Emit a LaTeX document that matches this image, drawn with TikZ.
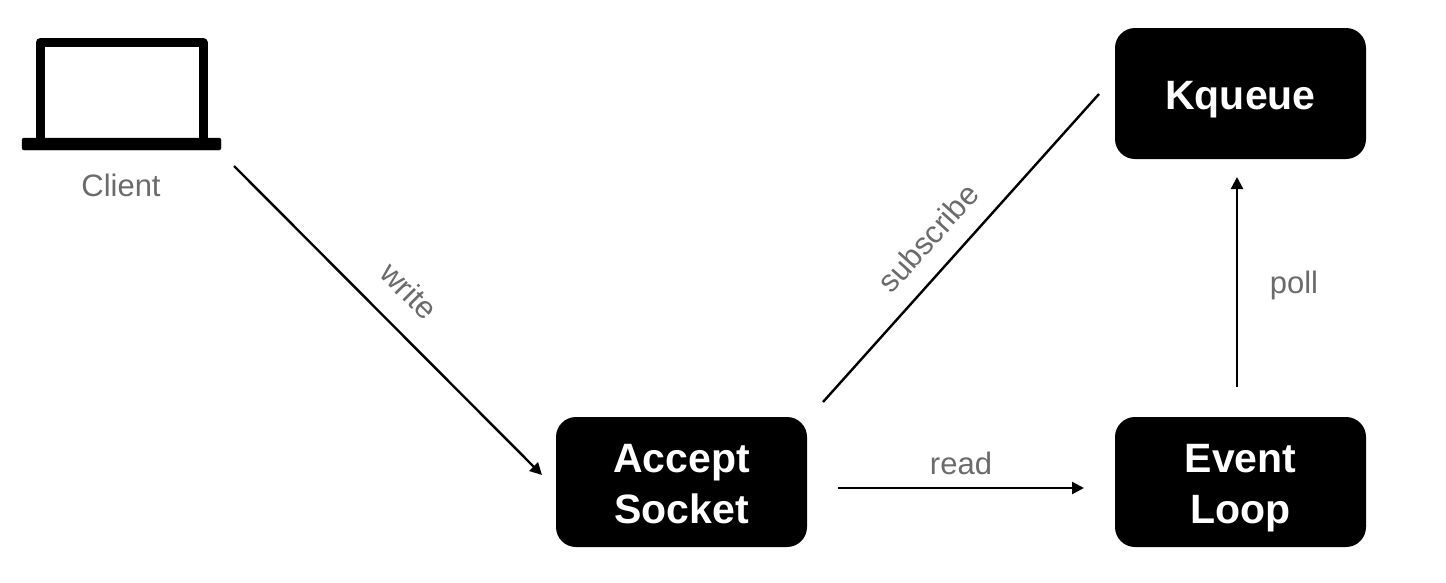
\documentclass[tikz,border=0pt]{standalone}
\usepackage{fontspec}
\setmainfont{Liberation Sans}
\usetikzlibrary{arrows.meta}
\newcommand{\boxtop}{\rule{0pt}{47.7pt}}
\tikzset{
  blackbox/.style={draw=none,fill=black,rounded corners=20pt,minimum width=251pt,minimum height=130pt,inner sep=0pt,align=center,text=white,font=\fontsize{41}{51}\selectfont\bfseries},
  lbl/.style={text=black!58,font=\fontsize{31}{36}\selectfont,inner sep=0pt},
  conn/.style={line width=2.4pt,draw=black},
  arrowconn/.style={conn,-{Triangle[length=12pt,width=12pt]}},
  laptopline/.style={draw=black,line width=9pt,line join=round}
}
\begin{document}
\begin{tikzpicture}[x=1pt,y=-1pt]
\useasboundingbox (0,0) rectangle (1446,582);
\node[blackbox] (accept) at (681.5,482) {\boxtop\strut Accept\\\strut Socket};
\node[blackbox] (event) at (1240.5,482) {\boxtop\strut Event\\\strut Loop};
\node[blackbox,minimum height=131pt] (kqueue) at (1240.5,93.5) {\boxtop\strut Kqueue};
% laptop
\draw[laptopline] (40,140) -- (40,42.5) -- (203,42.5) -- (203,140);
\draw[black,fill=black,rounded corners=2pt] (22,138) rectangle (221,150);
\node[lbl] (client) at (121,185) {Client};
% free ends
\coordinate (w1) at (234,166);
\coordinate (w2) at (542,475);
\coordinate (s1) at (823,402);
\coordinate (s2) at (1099,94);
\coordinate (r1) at (838,488);
\coordinate (r2) at (1084,488);
\coordinate (p1) at (1237,387);
\coordinate (p2) at (1237,177);
\draw[arrowconn] (w1) -- (w2);
\draw[conn] (s1) -- (s2);
\draw[arrowconn] (r1) -- (r2);
\draw[arrowconn] (p1) -- (p2);
\node[lbl,rotate=-45] (lw) at (409,291) {write};
\node[lbl,rotate=48] (ls) at (928,238) {subscribe};
\node[lbl] (lr) at (961,463) {read};
\node[lbl] (lp) at (1294,285) {poll};
\end{tikzpicture}
\end{document}
